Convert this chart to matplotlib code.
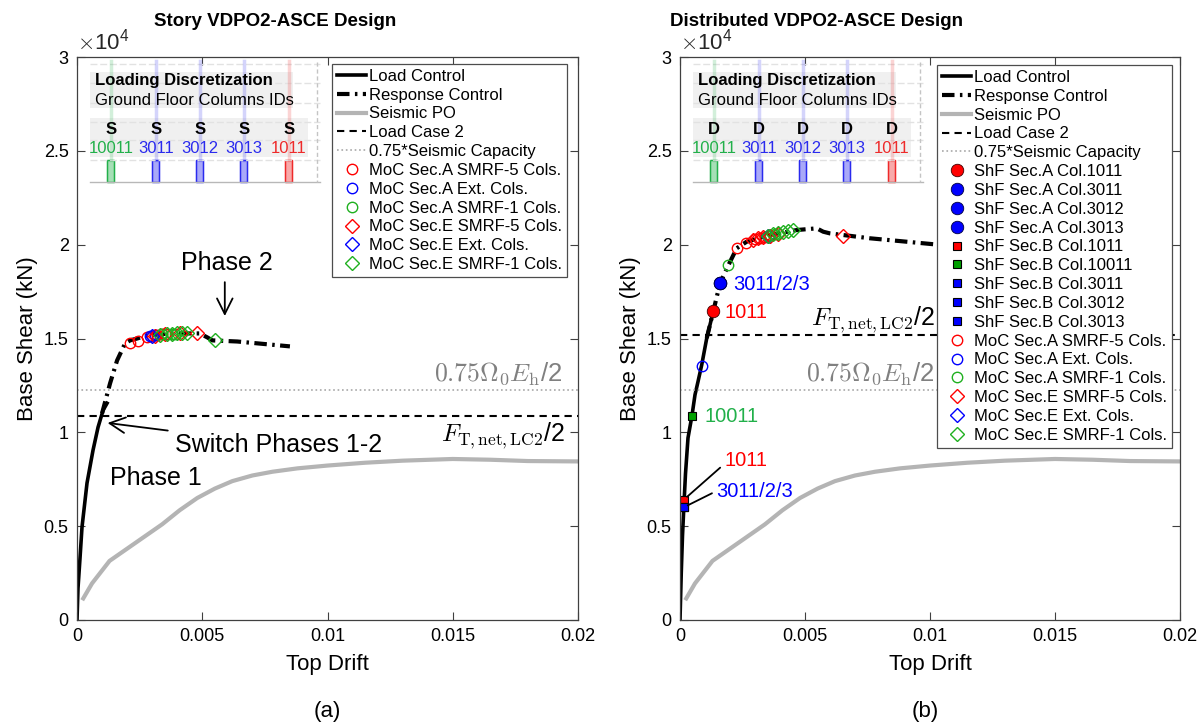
import numpy as np
import matplotlib
matplotlib.use("Agg")
import matplotlib.pyplot as plt
from matplotlib.ticker import FuncFormatter
from matplotlib.patches import Rectangle

#------------------Fonts------------------
plt.rcParams['font.family'] = ['Liberation Sans', 'DejaVu Sans']
plt.rcParams['mathtext.fontset'] = 'cm'

#------------------Panel (a) data: Story design------------------
a_load_x = [0, 0.00004, 0.00012, 0.0002, 0.0004, 0.00064, 0.00084, 0.00104, 0.0012]
a_load_y = [0, 1700, 3300, 4950, 7300, 9050, 10270, 11170, 11550]
a_resp_x = [0.001, 0.00132, 0.0016, 0.00192, 0.00212, 0.0024, 0.0028, 0.0037, 0.0049, 0.0052, 0.0054, 0.0064, 0.0085]
a_resp_y = [11010, 12610, 13830, 14740, 14900, 15000, 15160, 15270, 15270, 15060, 14900, 14840, 14580]
a_lc2 = 10850
a_cap = 12230

a_moc_a5_x = [0.0021, 0.00245, 0.0028, 0.003, 0.0032, 0.0034]
a_moc_a5_y = [14750, 14850, 15100, 15150, 15200, 15230]
a_moc_aext_x = [0.0029, 0.0031]
a_moc_aext_y = [15150, 15180]
a_moc_a1_x = [0.0034, 0.0036, 0.0038, 0.0039]
a_moc_a1_y = [15220, 15250, 15260, 15260]
a_moc_e5_x = [0.0031, 0.0035, 0.0041, 0.0048]
a_moc_e5_y = [15150, 15220, 15270, 15270]
a_moc_eext_x = [0.003]
a_moc_eext_y = [15150]
a_moc_e1_x = [0.0033, 0.0036, 0.0038, 0.004, 0.0042, 0.0044, 0.0055]
a_moc_e1_y = [15200, 15250, 15260, 15270, 15270, 15270, 14900]

#------------------Panel (b) data: Distributed design------------------
b_load_x = [0, 0.00005, 0.0001, 0.00016, 0.00022, 0.00032, 0.00048, 0.0006, 0.00072, 0.00087, 0.00107, 0.00133]
b_load_y = [0, 2500, 4500, 6200, 7800, 9700, 10900, 12000, 12700, 13600, 15020, 16440]
b_resp_x = [0.00107, 0.00133, 0.0016, 0.00193, 0.00227, 0.00267, 0.0036, 0.00467, 0.00547, 0.00573, 0.006, 0.0076, 0.0104, 0.012]
b_resp_y = [15020, 16440, 17940, 18890, 19810, 20160, 20520, 20780, 20870, 20690, 20600, 20340, 19990, 19800]
b_lc2 = 15200
b_cap = 12230

shf_a_1011 = ([0.00133], [16440])
shf_a_3011 = ([0.0016], [17940])
shf_a_3012 = ([0.0016], [17940])
shf_a_3013 = ([0.0016], [17940])
shf_b_1011 = ([0.00016], [6420])
shf_b_10011 = ([0.00048], [10880])
shf_b_3011 = ([0.00016], [6010])
shf_b_3012 = ([0.00016], [6010])
shf_b_3013 = ([0.00016], [6010])

b_moc_a5_x = [0.00227, 0.00262, 0.003, 0.0032, 0.0034]
b_moc_a5_y = [19810, 20110, 20300, 20370, 20420]
b_moc_aext_x = [0.00087]
b_moc_aext_y = [13550]
b_moc_a1_x = [0.00193, 0.0036, 0.0038]
b_moc_a1_y = [18890, 20500, 20560]
b_moc_e5_x = [0.0029, 0.0031, 0.0033, 0.0036, 0.0039, 0.0065]
b_moc_e5_y = [20250, 20330, 20400, 20480, 20580, 20480]
b_moc_eext_x = [0.0035]
b_moc_eext_y = [20450]
b_moc_e1_x = [0.0035, 0.0037, 0.0039, 0.0041, 0.0043, 0.0045]
b_moc_e1_y = [20480, 20560, 20620, 20680, 20720, 20760]

#------------------Seismic pushover (same for both)------------------
po_x = [0.00025, 0.0006, 0.0013, 0.002, 0.0027, 0.0034, 0.0041, 0.0048, 0.0055, 0.0062, 0.007,
        0.0078, 0.0088, 0.01, 0.0115, 0.013, 0.015, 0.0165, 0.018, 0.02]
po_y = [1150, 1950, 3150, 3800, 4450, 5100, 5850, 6500, 7000, 7400, 7700,
        7900, 8080, 8230, 8380, 8490, 8580, 8540, 8470, 8450]

#------------------Inset: loading discretization------------------
col_ids = ['10011', '3011', '3012', '3013', '1011']
col_colors = ['#22b04a', '#2a2aee', '#2a2aee', '#2a2aee', '#ee2a2a']
col_pos = [34, 79, 123, 167, 212]
floor_lines = [7, 26, 46, 65, 83, 103]

RED = '#ff0000'
BLUE = '#0000ff'
GREEN = '#1fb01f'
GRAY = '#b4b4b4'


def draw_inset(ax, letter):
    ins = ax.inset_axes([0.0, 0.769, 0.499, 0.231])
    ins.set_xlim(0, 250)
    ins.set_ylim(130, 0)
    ins.axis('off')
    for yy in floor_lines:
        ins.plot([13, 243], [yy, yy], color='#e2e2e2', lw=1, ls=(0, (5, 2)))
    ins.plot([13, 243], [125, 125], color='#b8b8b8', lw=1)
    ins.plot([240, 240], [5, 125], color='#c4c4c4', lw=1, ls=(0, (3, 2)))
    for xx, cc in zip(col_pos, col_colors):
        ins.plot([xx, xx], [4, 103], color=cc, alpha=0.2, lw=2.5)
    ins.add_patch(Rectangle((13, 15), 203, 36, fc='#f0f0f0', ec='none', alpha=0.95))
    ins.add_patch(Rectangle((13, 61), 218, 39, fc='#f0f0f0', ec='none', alpha=0.95))
    ins.text(18, 23, 'Loading Discretization', fontsize=12, fontweight='bold', va='center')
    ins.text(18, 43, 'Ground Floor Columns IDs', fontsize=12, va='center')
    for xx, cc, cid in zip(col_pos, col_colors, col_ids):
        ins.text(xx, 72, letter, fontsize=12, fontweight='bold', ha='center', va='center')
        ins.text(xx, 91, cid, fontsize=12, color=cc, ha='center', va='center')
        ins.add_patch(Rectangle((xx - 3.5, 103), 7, 22, fc=cc, ec=cc, alpha=0.4, lw=1))
        ins.add_patch(Rectangle((xx - 3.5, 103), 7, 22, fc='none', ec=cc, lw=1))


def style_axes(ax):
    ax.set_xlim(0, 0.02)
    ax.set_ylim(0, 30000)
    ax.set_xticks(np.arange(0, 0.0201, 0.005))
    ax.set_yticks(np.arange(0, 30001, 5000))
    ax.xaxis.set_major_formatter(FuncFormatter(lambda v, p: '%g' % round(v, 4)))
    ax.yaxis.set_major_formatter(FuncFormatter(lambda v, p: '%g' % (v / 1e4)))
    ax.tick_params(direction='in', length=6, top=True, right=True, labelsize=13,
                   color='#404040', pad=6)
    for s in ax.spines.values():
        s.set_color('#404040')
        s.set_linewidth(0.9)
    ax.set_xlabel('Top Drift', fontsize=16, labelpad=6)
    ax.set_ylabel('Base Shear (kN)', fontsize=16, labelpad=4)
    ax.text(0.0, 1.004, r'$\times\mathregular{10^4}$', transform=ax.transAxes,
            fontsize=16, va='bottom', ha='left', color='#262626')


def plot_common(ax, lx, ly, rx, ry, lc2, cap):
    ax.plot(lx, ly, color='k', lw=2.6, label='Load Control')
    ax.plot(rx, ry, color='k', lw=3, ls=(0, (3, 1.3, 0.6, 1.3)), label='Response Control')
    ax.plot(po_x, po_y, color=GRAY, lw=3, label='Seismic PO')
    ax.axhline(lc2, color='k', lw=1.5, ls=(0, (3.5, 2.5)), label='Load Case 2')
    ax.axhline(cap, color='#a8a8a8', lw=1.2, ls=':', label='0.75*Seismic Capacity')


def plot_moc(ax, a5, aext, a1, e5, eext, e1):
    kw = dict(ls='none', mfc='none', mew=1.0)
    ax.plot(*a5, marker='o', ms=7.5, mec=RED, label='MoC Sec.A SMRF-5 Cols.', **kw)
    ax.plot(*aext, marker='o', ms=7.5, mec=BLUE, label='MoC Sec.A Ext. Cols.', **kw)
    ax.plot(*a1, marker='o', ms=7.5, mec=GREEN, label='MoC Sec.A SMRF-1 Cols.', **kw)
    ax.plot(*e5, marker='D', ms=7, mec=RED, label='MoC Sec.E SMRF-5 Cols.', **kw)
    ax.plot(*eext, marker='D', ms=7, mec=BLUE, label='MoC Sec.E Ext. Cols.', **kw)
    ax.plot(*e1, marker='D', ms=7, mec=GREEN, label='MoC Sec.E SMRF-1 Cols.', **kw)


def add_legend(ax, x0, y0):
    leg = ax.legend(loc='upper right', bbox_to_anchor=(x0, y0), fontsize=12,
                    fancybox=False, edgecolor='#4d4d4d', framealpha=1,
                    handlelength=1.75, handletextpad=0.15, labelspacing=0.23,
                    borderpad=0.3, borderaxespad=0)
    leg.get_frame().set_linewidth(0.9)
    leg.set_zorder(10)


fig = plt.figure(figsize=(12, 7.27), dpi=100)
ax1 = fig.add_axes([77 / 1200, 107 / 727, 501 / 1200, 563 / 727])
ax2 = fig.add_axes([680 / 1200, 107 / 727, 500 / 1200, 563 / 727])

#------------------Panel (a)------------------
plot_common(ax1, a_load_x, a_load_y, a_resp_x, a_resp_y, a_lc2, a_cap)
plot_moc(ax1, (a_moc_a5_x, a_moc_a5_y), (a_moc_aext_x, a_moc_aext_y), (a_moc_a1_x, a_moc_a1_y),
         (a_moc_e5_x, a_moc_e5_y), (a_moc_eext_x, a_moc_eext_y), (a_moc_e1_x, a_moc_e1_y))
style_axes(ax1)
add_legend(ax1, 0.978, 0.988)
draw_inset(ax1, 'S')

ax1.text(0.0195, 9800, r'$F_{\mathrm{T,net,LC2}}$/2', fontsize=18, ha='right', va='center')
ax1.text(0.0194, 13150, r'$0.75\Omega_0E_{\mathrm{h}}$/2', fontsize=18.5, ha='right', va='center',
         color='#808080')
ax1.text(0.0013, 7550, 'Phase 1', fontsize=18, ha='left', va='center')
ax1.text(0.006, 19000, 'Phase 2', fontsize=18, ha='center', va='center')
ax1.annotate('', xy=(0.0059, 16050), xytext=(0.0059, 18150),
             arrowprops=dict(arrowstyle='->', lw=1.3, mutation_scale=28, color='k'))
ax1.annotate('Switch Phases 1-2', xy=(0.00122, 10500), xytext=(0.0039, 9350),
             fontsize=18, ha='left', va='center',
             arrowprops=dict(arrowstyle='->', lw=1.3, mutation_scale=28, color='k',
                             shrinkA=3, shrinkB=0))

#------------------Panel (b)------------------
plot_common(ax2, b_load_x, b_load_y, b_resp_x, b_resp_y, b_lc2, b_cap)
ax2.plot(*shf_a_1011, ls='none', marker='o', ms=9, mfc=RED, mec='#400000', mew=0.6, label='ShF Sec.A Col.1011')
ax2.plot(*shf_a_3011, ls='none', marker='o', ms=9, mfc=BLUE, mec='#000040', mew=0.6, label='ShF Sec.A Col.3011')
ax2.plot(*shf_a_3012, ls='none', marker='o', ms=9, mfc=BLUE, mec='#000040', mew=0.6, label='ShF Sec.A Col.3012')
ax2.plot(*shf_a_3013, ls='none', marker='o', ms=9, mfc=BLUE, mec='#000040', mew=0.6, label='ShF Sec.A Col.3013')
ax2.plot(*shf_b_1011, ls='none', marker='s', ms=6, mfc=RED, mec='k', mew=0.8, label='ShF Sec.B Col.1011')
ax2.plot(*shf_b_10011, ls='none', marker='s', ms=6, mfc='#00a000', mec='k', mew=0.8, label='ShF Sec.B Col.10011')
ax2.plot(*shf_b_3011, ls='none', marker='s', ms=6, mfc=BLUE, mec='k', mew=0.8, label='ShF Sec.B Col.3011')
ax2.plot(*shf_b_3012, ls='none', marker='s', ms=6, mfc=BLUE, mec='k', mew=0.8, label='ShF Sec.B Col.3012')
ax2.plot(*shf_b_3013, ls='none', marker='s', ms=6, mfc=BLUE, mec='k', mew=0.8, label='ShF Sec.B Col.3013')
plot_moc(ax2, (b_moc_a5_x, b_moc_a5_y), (b_moc_aext_x, b_moc_aext_y), (b_moc_a1_x, b_moc_a1_y),
         (b_moc_e5_x, b_moc_e5_y), (b_moc_eext_x, b_moc_eext_y), (b_moc_e1_x, b_moc_e1_y))
style_axes(ax2)
add_legend(ax2, 0.984, 0.986)
draw_inset(ax2, 'D')

ax2.text(0.0102, 16000, r'$F_{\mathrm{T,net,LC2}}$/2', fontsize=18, ha='right', va='center')
ax2.text(0.0102, 13150, r'$0.75\Omega_0E_{\mathrm{h}}$/2', fontsize=18.5, ha='right', va='center',
         color='#808080')
ax2.text(0.0018, 16390, '1011', fontsize=14.5, color=RED, va='center')
ax2.text(0.00212, 17880, '3011/2/3', fontsize=14.5, color=BLUE, va='center')
ax2.text(0.001, 10850, '10011', fontsize=14.5, color='#22b04a', va='center')
ax2.annotate('1011', xy=(shf_b_1011[0][0], shf_b_1011[1][0]), xytext=(0.00176, 8500),
             fontsize=14.5, color=RED, va='center',
             arrowprops=dict(arrowstyle='-', lw=1.3, color='k', shrinkA=1, shrinkB=3,
                             relpos=(0, 0.3)))
ax2.annotate('3011/2/3', xy=(shf_b_3011[0][0], shf_b_3011[1][0]), xytext=(0.00144, 6860),
             fontsize=14.5, color=BLUE, va='center',
             arrowprops=dict(arrowstyle='-', lw=1.3, color='k', shrinkA=1, shrinkB=3,
                             relpos=(0, 0.5)))

#------------------Titles and panel tags------------------
fig.text(275 / 1200, 1 - 21 / 727, 'Story VDPO2-ASCE Design', fontsize=13.5, fontweight='bold',
         ha='center', va='center')
fig.text(817 / 1200, 1 - 21 / 727, 'Distributed VDPO2-ASCE Design', fontsize=13.5, fontweight='bold',
         ha='center', va='center')
fig.text(327 / 1200, 1 - 712 / 727, '(a)', fontsize=16, ha='center', va='center')
fig.text(925 / 1200, 1 - 712 / 727, '(b)', fontsize=16, ha='center', va='center')

fig.savefig('out.png', dpi=100)
